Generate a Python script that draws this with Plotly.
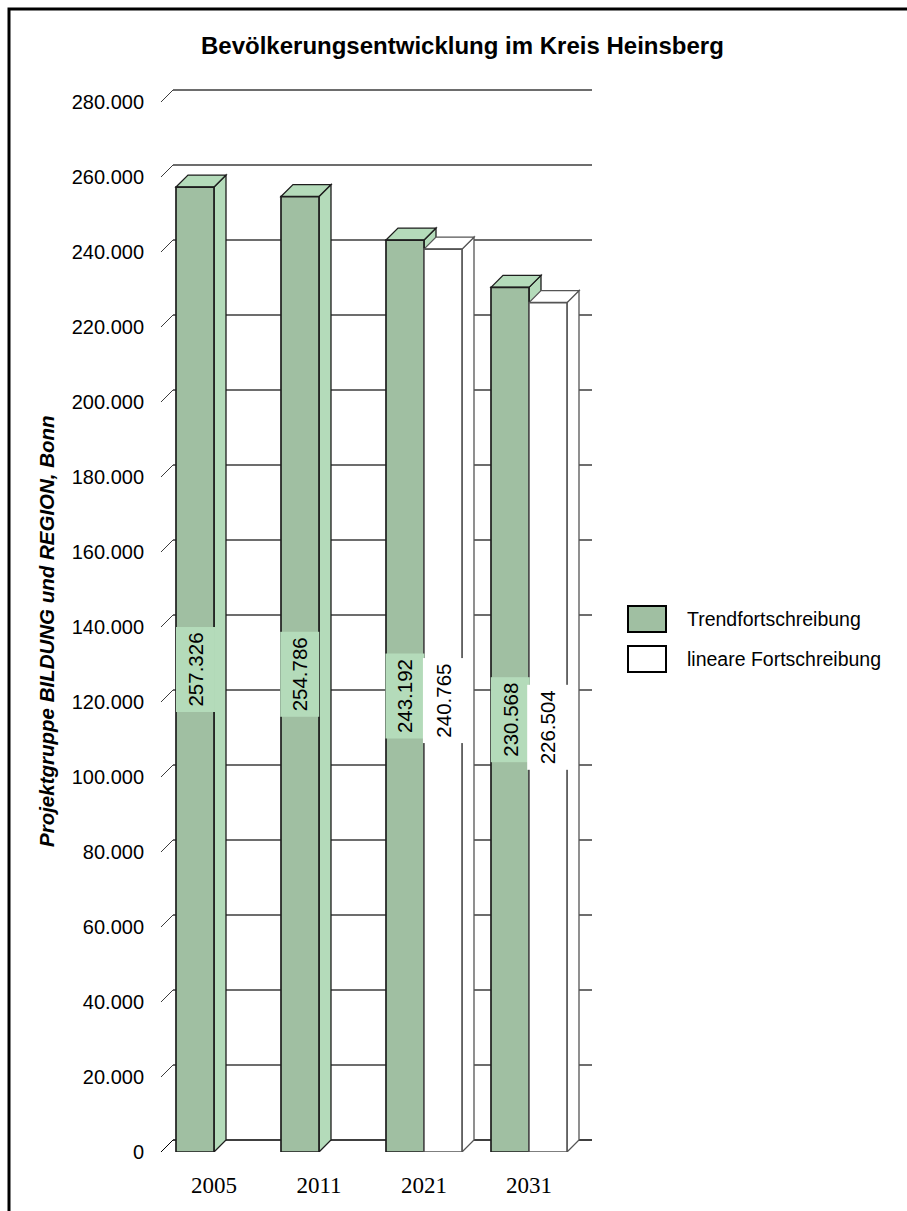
import plotly.graph_objects as go

# ---- data ----
years = ["2005", "2011", "2021", "2031"]
trend = [257326, 254786, 243192, 230568]
linear = [None, None, 240765, 226504]
series_names = ["Trendfortschreibung", "lineare Fortschreibung"]
y_ticks = list(range(0, 280001, 20000))
title_text = "Bevölkerungsentwicklung im Kreis Heinsberg"
y_title_text = "Projektgruppe BILDUNG und REGION, Bonn"

# ---- geometry / style ----
W, H = 907, 1211
L, R, T, B = 161, 592, 85, 1152          # plot area in pixels
PX_PER_CAT = 105.0                        # pixels per category step
PX_PER_VAL = 3.75 / 1000.0                # pixels per inhabitant
X0 = -(214 - L) / PX_PER_CAT
X1 = X0 + (R - L) / PX_PER_CAT
Y1 = (B - T) / PX_PER_VAL
BAR_W = 38 / PX_PER_CAT
DX = 12 / PX_PER_CAT                      # 3D depth, horizontal
DY = 12 / PX_PER_VAL                      # 3D depth, vertical

GREEN = "#a0bfa2"
GREEN_LIGHT = "#b4dbba"
EDGE = "#1e1e1e"
GRID = "#3c3c3c"
SANS = "Liberation Sans, Arial, sans-serif"
SERIF = "Liberation Serif, Times New Roman, serif"


def px_x(px):
    return (px - L) / (R - L)


def px_y(py):
    return (B - py) / (B - T)


fig = go.Figure()

shapes = []

# back-wall gridlines with the slanted side-wall stub
for t in y_ticks:
    col = "#000000" if t == 0 else GRID
    shapes.append(dict(type="line", xref="x", yref="y", layer="below",
                       x0=X0, y0=t, x1=X0 + DX, y1=t + DY,
                       line=dict(color=col, width=1)))
    shapes.append(dict(type="line", xref="x", yref="y", layer="below",
                       x0=X0 + DX, y0=t + DY, x1=X1, y1=t + DY,
                       line=dict(color=col, width=1.3)))


def box_faces(xl, v, fill, edge):
    xr = xl + BAR_W
    top = (f"M {xl},{v} L {xl + DX},{v + DY} L {xr + DX},{v + DY} "
           f"L {xr},{v} Z")
    side = (f"M {xr},0 L {xr},{v} L {xr + DX},{v + DY} "
            f"L {xr + DX},{DY} Z")
    return [
        dict(type="path", xref="x", yref="y", layer="below", path=side,
             fillcolor=fill, line=dict(color=edge, width=1.3)),
        dict(type="path", xref="x", yref="y", layer="below", path=top,
             fillcolor=fill, line=dict(color=edge, width=1.3)),
    ]


# top and side faces: green boxes first, white boxes sit in front of them
for i, v in enumerate(trend):
    if v is not None:
        shapes += box_faces(i - BAR_W, v, GREEN_LIGHT, EDGE)
for i, v in enumerate(linear):
    if v is not None:
        shapes += box_faces(i, v, "#ffffff", "#555555")

# front faces
fig.add_trace(go.Bar(
    x=list(range(len(years))), y=trend, name=series_names[0],
    offset=-BAR_W, width=BAR_W,
    marker=dict(color=GREEN, line=dict(color=EDGE, width=1.7)),
    showlegend=False, hoverinfo="skip"))
fig.add_trace(go.Bar(
    x=list(range(len(years))), y=linear, name=series_names[1],
    offset=0, width=BAR_W,
    marker=dict(color="#ffffff", line=dict(color="#555555", width=1.6)),
    showlegend=False, hoverinfo="skip"))


def fmt(v):
    return f"{v:,}".replace(",", ".")


annotations = []
# value labels, rotated, centred on each front face
for i, v in enumerate(trend):
    if v is not None:
        annotations.append(dict(
            x=i - BAR_W / 2, y=v / 2, xref="x", yref="y", text=fmt(v),
            textangle=-90, showarrow=False, bgcolor=GREEN_LIGHT,
            width=84, height=38, borderpad=0,
            font=dict(family=SANS, size=20.5, color="#000000")))
for i, v in enumerate(linear):
    if v is not None:
        annotations.append(dict(
            x=i + BAR_W / 2, y=v / 2, xref="x", yref="y", text=fmt(v),
            textangle=-90, showarrow=False, bgcolor="#ffffff",
            width=84, height=40, borderpad=0,
            font=dict(family=SANS, size=20.5, color="#000000")))

# title and vertical axis caption
annotations.append(dict(
    x=px_x(462), y=px_y(45), xref="paper", yref="paper", text=title_text,
    showarrow=False, xanchor="center", yanchor="middle",
    font=dict(family=SANS, size=24, color="#000000", weight="bold")))
annotations.append(dict(
    x=px_x(46), y=px_y(631), xref="paper", yref="paper", text=y_title_text,
    showarrow=False, textangle=-90, xanchor="center", yanchor="middle",
    font=dict(family=SANS, size=20.5, color="#000000", weight="bold",
              style="italic")))

# legend
legend_fills = [GREEN, "#ffffff"]
legend_rows = [619, 659]
for name, fill, cy in zip(series_names, legend_fills, legend_rows):
    shapes.append(dict(type="rect", xref="paper", yref="paper",
                       x0=px_x(628), x1=px_x(666),
                       y0=px_y(cy - 13), y1=px_y(cy + 13),
                       fillcolor=fill, line=dict(color="#000000", width=2)))
    annotations.append(dict(
        x=px_x(685), y=px_y(cy), xref="paper", yref="paper", text=name,
        showarrow=False, xanchor="left", yanchor="middle",
        font=dict(family=SANS, size=19.5, color="#000000")))

# outer frame
shapes.append(dict(type="rect", xref="paper", yref="paper",
                   x0=px_x(9), x1=px_x(960), y0=px_y(9), y1=px_y(1260),
                   line=dict(color="#000000", width=3)))

fig.update_layout(
    width=W, height=H,
    margin=dict(l=L, r=W - R, t=T, b=H - B, pad=0),
    paper_bgcolor="#ffffff", plot_bgcolor="#ffffff",
    barmode="overlay",
    separators=",.",
    shapes=shapes,
    annotations=annotations,
    showlegend=False,
    xaxis=dict(range=[X0, X1], tickvals=list(range(len(years))),
               ticktext=years, showgrid=False, zeroline=False,
               showline=False, ticks="", ticklabelstandoff=17,
               tickfont=dict(family=SERIF, size=23, color="#000000"),
               fixedrange=True),
    yaxis=dict(range=[0, Y1], tickvals=y_ticks, tickformat=",",
               showgrid=False, zeroline=False, showline=False, ticks="",
               ticklabelstandoff=16,
               tickfont=dict(family=SANS, size=20, color="#000000"),
               fixedrange=True),
)

fig.write_html("out.html")
